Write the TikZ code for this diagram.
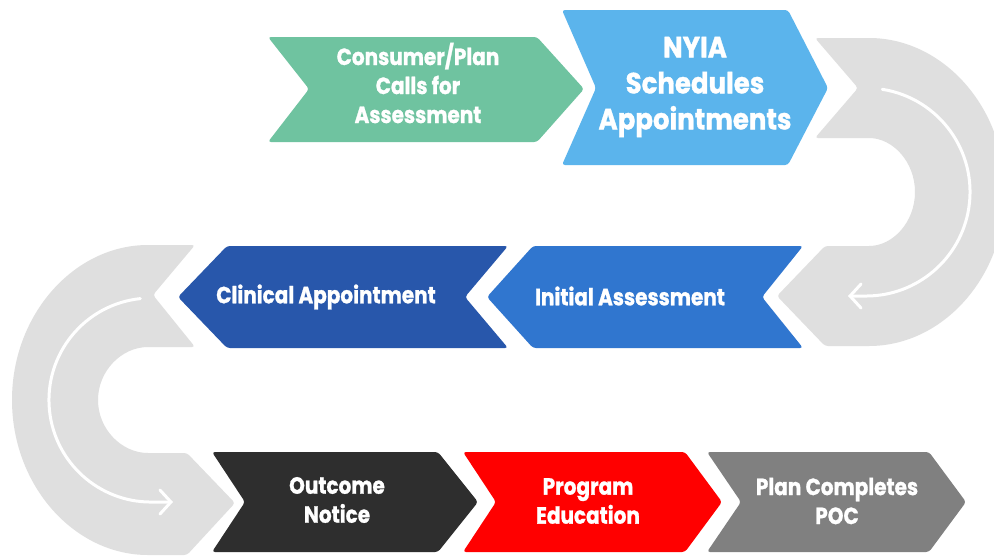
\documentclass[tikz,border=0pt]{standalone}
\usepackage{graphicx}
\usepackage{fontspec}
\setmainfont{Poppins}[BoldFeatures={FakeBold=1.2}]
\usetikzlibrary{arrows.meta}
\definecolor{cgreen}{HTML}{6FC3A0}
\definecolor{clight}{HTML}{5BB4EC}
\definecolor{cdark}{HTML}{2857AB}
\definecolor{cmid}{HTML}{3076CF}
\definecolor{cblack}{HTML}{2E2E2E}
\definecolor{cred}{HTML}{FF0000}
\definecolor{cgray}{HTML}{808080}
\definecolor{arcgray}{HTML}{DFDFDF}
\newcommand{\stl}[1]{\scalebox{1}[1.17]{#1}}
\newcommand{\stb}[1]{\scalebox{1}[1.12]{#1}}
\begin{document}
\begin{tikzpicture}[x=1pt,y=-1pt,
  chev/.style={rounded corners=3pt},
  lbl/.style={text=white, font=\bfseries\fontsize{20}{29}\selectfont, align=center, inner sep=0pt},
  biglbl/.style={lbl, font=\bfseries\fontsize{26}{36}\selectfont},
  flow/.style={draw=white, line width=3pt, line cap=round, -{Straight Barb[length=11pt,width=24pt,line cap=round]}}]
\useasboundingbox (0,0) rectangle (994,555);
\clip (0,0) rectangle (994,555);
\fill[white] (0,0) rectangle (994,555);
% gray return bands
\fill[arcgray, chev] (815,38) -- (866,38) arc[start angle=-90,end angle=90,x radius=139,y radius=154] -- (825,346) -- (777,296) -- (825,246) -- (866,246) arc[start angle=90,end angle=-90,x radius=49,y radius=54] -- (815,138) -- (858,88) -- cycle;
\fill[arcgray, chev] (195,245) -- (153,295) -- (195,347) -- (151,347) arc[start angle=-90,end angle=-270,radius=53] -- (187,453) -- (235,503) -- (187,555) -- (151,555) arc[start angle=90,end angle=270,x radius=139,y radius=155] -- cycle;
\coordinate (rA) at (882.3,89.3);
\coordinate (rB) at (848,296);
\draw[flow] (rA) arc[start angle=-81,end angle=90,radius=104] -- (rB);
\coordinate (lA) at (140.3,298.6);
\coordinate (lB) at (173,502);
\draw[flow] (lA) arc[start angle=-96,end angle=-270,radius=102] -- (lB);
% row 1
\fill[cgreen, chev] (268,37) -- (537,37) -- (584,89) -- (537,142) -- (268,142) -- (309,89) -- cycle;
\node[lbl] (consumer) at (418,83) {\stl{Consumer/Plan}\\\stl{Calls for}\\\stl{Assessment}};
\fill[clight, chev] (562,10) -- (788,10) -- (828,88) -- (788,165) -- (562,165) -- (596,88) -- cycle;
\node[biglbl] (nyia) at (695,87) {\stb{NYIA}\\\stb{Schedules}\\\stb{Appointments}};
% row 2
\fill[cdark, chev] (178,297) -- (227,246) -- (508,246) -- (465,297) -- (508,348) -- (227,348) -- cycle;
\node[lbl] (clinical) at (326,297) {\stl{Clinical Appointment}};
\fill[cmid, chev] (487,297) -- (533,246) -- (803,246) -- (762,297) -- (803,348) -- (533,348) -- cycle;
\node[lbl] (initial) at (630,296) {\stl{Initial Assessment}};
% row 3
\fill[cblack, chev] (212,452) -- (438,452) -- (478,502) -- (438,552) -- (212,552) -- (245,502) -- cycle;
\node[lbl] (outcome) at (337,500) {\stl{Outcome}\\\stl{Notice}};
\fill[cred, chev] (463,452) -- (685,452) -- (722,502) -- (685,552) -- (463,552) -- (496,502) -- cycle;
\node[lbl] (program) at (588,501) {\stl{Program}\\\stl{Education}};
\fill[cgray, chev] (707,452) -- (929,452) -- (966,502) -- (929,552) -- (707,552) -- (741,502) -- cycle;
\node[lbl] (poc) at (837,501) {\stl{Plan Completes}\\\stl{POC}};
\end{tikzpicture}
\end{document}
